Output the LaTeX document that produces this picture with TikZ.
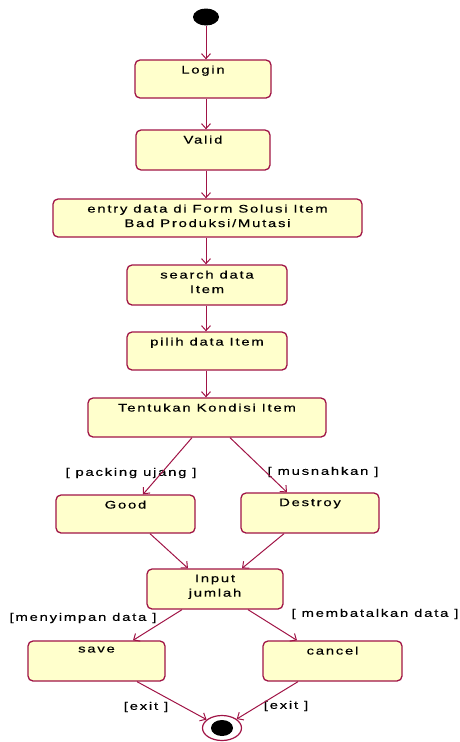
\documentclass[tikz,border=0pt]{standalone}
\usepackage{fontspec}
\setmainfont{Liberation Sans}[FakeStretch=1.35, LetterSpace=16, FakeBold=0.4]
\usetikzlibrary{arrows.meta,shapes.geometric}
\definecolor{umlred}{RGB}{160,20,70}
\definecolor{umlfill}{RGB}{255,255,204}
\begin{document}
\begin{tikzpicture}[x=1pt,y=-1pt,
  statebox/.style={draw=umlred, fill=umlfill, line width=1.3pt, rounded corners=5pt, inner sep=0pt},
  txt/.style={font=\fontsize{11}{14.5}\selectfont, align=center, inner sep=0pt, anchor=north, yshift=-6pt},
  flow/.style={draw=umlred, line width=1pt, -{Straight Barb[length=5pt,width=9pt]}},
  guard/.style={font=\fontsize{11}{14}\selectfont, inner sep=0pt}]
\useasboundingbox (0,0) rectangle (459,742);
% states
\node[ellipse, fill=black, minimum width=26pt, minimum height=17pt, inner sep=0pt] (start) at (206,17) {};
\node[statebox, minimum width=136pt, minimum height=38pt, label={[txt]north:Login}] (login) at (203,79) {};
\node[statebox, minimum width=134pt, minimum height=40pt, label={[txt]north:Valid}] (valid) at (203,150) {};
\node[statebox, minimum width=309pt, minimum height=38pt, label={[txt]north:entry data di Form Solusi Item\\Bad Produksi/Mutasi}] (entry) at (207.5,218) {};
\node[statebox, minimum width=160pt, minimum height=40pt, label={[txt]north:search data\\Item}] (search) at (207,285) {};
\node[statebox, minimum width=160pt, minimum height=38pt, label={[txt]north:pilih data Item}] (pilih) at (207,351) {};
\node[statebox, minimum width=238pt, minimum height=39pt, label={[txt]north:Tentukan Kondisi Item}] (tent) at (207,417.5) {};
\node[statebox, minimum width=139pt, minimum height=38pt, label={[txt]north:Good}] (good) at (125.5,514) {};
\node[statebox, minimum width=138pt, minimum height=40pt, label={[txt]north:Destroy}] (destroy) at (310,513) {};
\node[statebox, minimum width=136pt, minimum height=40pt, label={[txt]north:Input\\jumlah}] (input) at (215,589) {};
\node[statebox, minimum width=137pt, minimum height=40pt, label={[txt]north:save}] (save) at (96.5,661) {};
\node[statebox, minimum width=139pt, minimum height=40pt, label={[txt]north:cancel}] (cancel) at (332.5,661) {};
\node[ellipse, draw=umlred, line width=1.2pt, fill=white, minimum width=39pt, minimum height=25pt, inner sep=0pt] (end) at (222,728) {};
\fill (end.center) ellipse [x radius=11pt, y radius=8pt];
% guards
\node[guard] (g1) at (131,473) {[ packing ujang ]};
\node[guard] (g2) at (323,472) {[ musnahkan ]};
\node[guard] (g3) at (83,618) {[menyimpan data ]};
\node[guard] (g4) at (375,614) {[ membatalkan data ]};
\node[guard] (g5) at (146,707) {[exit ]};
\node[guard] (g6) at (286,706) {[exit ]};
% flows
\draw[flow] (start.south) -- (start.south |- login.north);
\draw[flow] (login.south -| start.center) -- (valid.north -| start.center);
\draw[flow] (valid.south -| start.center) -- (entry.north -| start.center);
\draw[flow] (entry.south -| start.center) -- (search.north -| start.center);
\draw[flow] (search.south -| start.center) -- (pilih.north -| start.center);
\draw[flow] (pilih.south -| start.center) -- (tent.north -| start.center);
\draw[flow] ([xshift=-15pt]tent.south) -- ([xshift=17.5pt]good.north);
\draw[flow] ([xshift=23pt]tent.south) -- ([xshift=-23pt]destroy.north);
\draw[flow] ([xshift=24.5pt]good.south) -- ([xshift=-27pt]input.north);
\draw[flow] ([xshift=-26pt]destroy.south) -- ([xshift=27pt]input.north);
\draw[flow] ([xshift=-33pt]input.south) -- ([xshift=36.5pt]save.north);
\draw[flow] ([xshift=33pt]input.south) -- ([xshift=-35.5pt]cancel.north);
\draw[flow] ([xshift=40.5pt]save.south) -- (end);
\draw[flow] ([xshift=-34.5pt]cancel.south) -- (end);
\end{tikzpicture}
\end{document}
